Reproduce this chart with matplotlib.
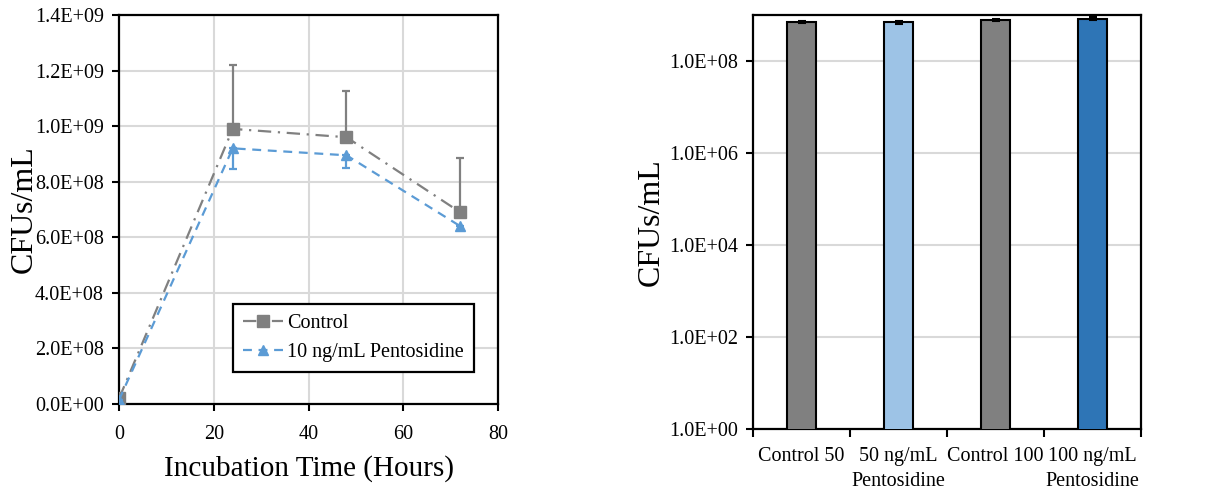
"""CFU growth curves and CFU bar chart with pentosidine treatment."""

import matplotlib

matplotlib.use("Agg")
import matplotlib.pyplot as plt
import numpy as np
from matplotlib.ticker import FuncFormatter

# time course
hours = [0, 24, 48, 72]
control = [2.0e7, 0.99e9, 0.96e9, 0.69e9]
control_err = [0.0, 0.23e9, 0.165e9, 0.195e9]
pento = [1.5e7, 0.92e9, 0.895e9, 0.64e9]
pento_err = [0.0, 0.075e9, 0.045e9, 0.015e9]

# bar chart
bar_labels = ["Control 50", "50 ng/mL\nPentosidine", "Control 100", "100 ng/mL\nPentosidine"]
bar_values = [7.0e8, 6.9e8, 7.7e8, 8.3e8]
bar_err = [4.0e7, 4.0e7, 4.0e7, 6.0e7]
bar_colors = ["#808080", "#9DC3E6", "#808080", "#2E75B6"]

GRID = "#d9d9d9"


def sci(v, _pos):
    return f"{v:.1E}"


def main() -> None:
    plt.rcParams["font.family"] = ["Liberation Serif", "DejaVu Serif"]
    fig = plt.figure(figsize=(12.11, 4.95), dpi=100)

    # ---- left: growth curve
    ax = fig.add_axes([0.0983, 0.1838, 0.313, 0.786])
    ax.plot(hours, control, color="#808080", linestyle=(0, (6, 3, 1, 3)), linewidth=1.6,
            marker="s", markersize=8, label="Control", zorder=3)
    ax.errorbar(hours, control, yerr=[np.zeros(4), control_err], fmt="none",
                ecolor="#808080", elinewidth=1.6, capsize=3, capthick=1.6, zorder=2)
    ax.plot(hours, pento, color="#5B9BD5", linestyle=(0, (4, 3)), linewidth=1.6,
            marker="^", markersize=7, label="10 ng/mL Pentosidine", zorder=4)
    ax.errorbar(hours, pento, yerr=[pento_err, np.zeros(4)], fmt="none",
                ecolor="#5B9BD5", elinewidth=1.6, capsize=3, capthick=1.6, zorder=4)

    ax.set_xlim(0, 80)
    ax.set_ylim(0, 1.4e9)
    ax.set_xticks(np.arange(0, 81, 20))
    ax.set_yticks(np.arange(0, 1.41e9, 2e8))
    ax.yaxis.set_major_formatter(FuncFormatter(sci))
    ax.grid(True, color=GRID, linewidth=1.5)
    ax.set_axisbelow(True)
    for s in ax.spines.values():
        s.set_linewidth(1.6)
    ax.tick_params(labelsize=14.5, width=1.5, length=5)
    ax.tick_params(axis="x", pad=10)
    ax.tick_params(axis="y", pad=6)
    ax.set_xlabel("Incubation Time (Hours)", fontsize=21, labelpad=8)
    ax.set_ylabel("CFUs/mL", fontsize=23)
    ax.yaxis.set_label_coords(-0.213, 0.5)
    leg = ax.legend(loc="lower left", bbox_to_anchor=(0.30, 0.082), borderaxespad=0,
                    fontsize=14.5, frameon=True, fancybox=False, framealpha=1,
                    handlelength=2.0, handletextpad=0.2, borderpad=0.5)
    leg.get_frame().set_edgecolor("black")
    leg.get_frame().set_linewidth(1.6)

    # ---- right: bars on log scale
    bx = fig.add_axes([0.6218, 0.1333, 0.3204, 0.8364])
    pos = np.arange(len(bar_labels))
    bx.bar(pos, bar_values, width=0.30, color=bar_colors, edgecolor="black",
           linewidth=1.5, yerr=bar_err, error_kw=dict(ecolor="black", elinewidth=1.5,
                                                      capsize=3, capthick=1.5), zorder=3)
    bx.set_yscale("log")
    bx.set_ylim(1, 1e9)
    bx.set_xlim(-0.5, len(bar_labels) - 0.5)
    bx.set_yticks([1e0, 1e2, 1e4, 1e6, 1e8])
    bx.yaxis.set_minor_locator(matplotlib.ticker.NullLocator())
    bx.yaxis.set_major_formatter(FuncFormatter(sci))
    bx.yaxis.grid(True, color=GRID, linewidth=1.5)
    bx.set_axisbelow(True)
    bx.set_xticks(np.arange(-0.5, len(bar_labels), 1.0))
    bx.set_xticklabels([])
    bx.set_xticks(pos, minor=True)
    bx.set_xticklabels(bar_labels, minor=True, fontsize=14.5, linespacing=1.45)
    bx.tick_params(axis="x", which="minor", length=0, pad=13)
    bx.tick_params(axis="x", which="major", length=6, width=1.5)
    bx.tick_params(axis="y", labelsize=14.5, width=1.5, length=5, pad=6)
    for s in bx.spines.values():
        s.set_linewidth(1.6)
    bx.set_ylabel("CFUs/mL", fontsize=23)
    bx.yaxis.set_label_coords(-0.226, 0.5)

    fig.savefig("out.png", dpi=100)
    plt.close(fig)


if __name__ == "__main__":
    main()
